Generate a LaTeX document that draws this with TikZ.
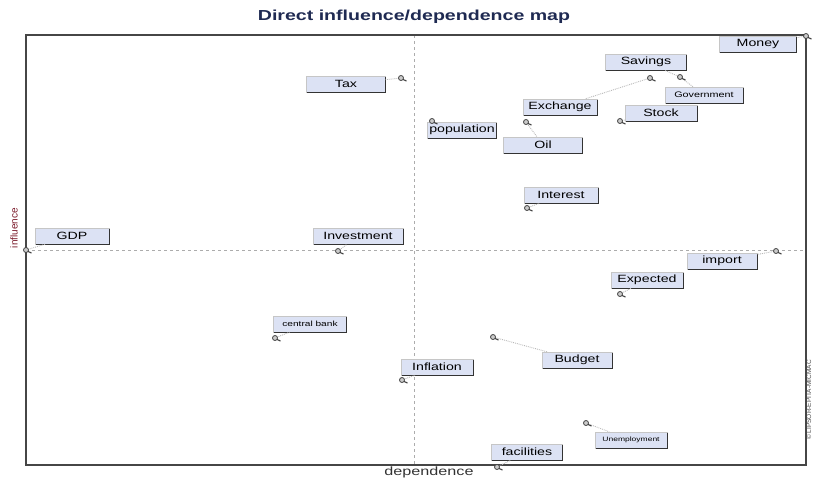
\documentclass[tikz,border=0pt]{standalone}
\usepackage{fontspec}
\setmainfont{Liberation Sans}
\newfontfamily\widefont[FakeStretch=1.35]{Liberation Sans}
\definecolor{lblfill}{HTML}{DCE2F4}
\definecolor{titleblue}{HTML}{1F2A52}
\definecolor{inflred}{HTML}{7A1A2A}
\tikzset{
  lbl/.style={draw=gray!45, fill=lblfill, minimum width=74pt, minimum height=16pt,
    inner sep=1pt, font=\widefont\fontsize{10.5}{12}\selectfont},
  smalllbl/.style={lbl, font=\widefont\fontsize{8}{9}\selectfont},
  leader/.style={gray!55, densely dotted, line width=0.9pt},
  shade/.style={black!80, line width=1.3pt},
  axis/.style={gray!65, dashed, line width=0.6pt},
  marker/.pic={
    \draw[gray!50!black, line width=1.1pt] (1,1) -- (5.5,3);
    \filldraw[fill=gray!40, draw=gray!50!black, line width=0.8pt] (0,0) circle (2.5);
  }
}
\begin{document}
\begin{tikzpicture}[x=1pt,y=-1pt]
\useasboundingbox (0,0) rectangle (814,477);

\node[font=\widefont\bfseries\fontsize{14.5}{16}\selectfont, text=titleblue] (title) at (414,17) {Direct influence/dependence map};

\draw[axis] (414,35) -- (414,465);
\draw[axis] (26,250) -- (806,250);
\draw[gray!55!black, line width=1.7pt] (26,35) rectangle (806,465);

\node[rotate=90, text=inflred, font=\fontsize{10}{11}\selectfont] (infl) at (14,228) {influence};
\node[text=gray!40!black, font=\widefont\fontsize{12}{13}\selectfont] (dep) at (429,472) {dependence};
\node[rotate=90, text=gray!60!black, font=\fontsize{6.5}{7}\selectfont] (copy) at (809,400) {© LIPSOR-EPITA-MICMAC};

\coordinate (pMoney) at (806,36);
\coordinate (pSavings) at (680,77);
\coordinate (pGov) at (680,77);
\coordinate (pStock) at (620,121);
\coordinate (pTax) at (401,78);
\coordinate (pExch) at (650,78);
\coordinate (pPop) at (432,121);
\coordinate (pOil) at (526,122);
\coordinate (pInt) at (527,208);
\coordinate (pGDP) at (26,250);
\coordinate (pInv) at (338,251);
\coordinate (pImp) at (776,251);
\coordinate (pExp) at (620,294);
\coordinate (pBank) at (275,338);
\coordinate (pInfl) at (402,380);
\coordinate (pBudget) at (493,337);
\coordinate (pUnemp) at (586,423);
\coordinate (pFac) at (497,467);

\node[lbl, minimum width=77pt] (money) at (758,44) {Money};
\node[lbl, minimum width=81pt] (savings) at (646,62) {Savings};
\node[smalllbl, minimum width=78pt] (gov) at (704,95) {Government};
\node[lbl, minimum width=72pt] (stock) at (661,113) {Stock};
\node[lbl, minimum width=79pt] (tax) at (346,84) {Tax};
\node[lbl, minimum width=74pt] (exch) at (560,107) {Exchange};
\node[lbl, minimum width=69pt] (pop) at (462,130) {population};
\node[lbl, minimum width=79pt] (oil) at (543,145) {Oil};
\node[lbl, minimum width=74pt] (int) at (561,195) {Interest};
\node[lbl, minimum width=74pt] (gdp) at (72,236) {GDP};
\node[lbl, minimum width=90pt] (inv) at (358,236) {Investment};
\node[lbl, minimum width=70pt] (imp) at (722,261) {import};
\node[lbl, minimum width=72pt] (exp) at (647,280) {Expected};
\node[smalllbl, minimum width=73pt, font=\widefont\fontsize{7.5}{8}\selectfont] (bank) at (310,324) {central bank};
\node[lbl, minimum width=72pt] (infl) at (437,367) {Inflation};
\node[lbl, minimum width=70pt] (budget) at (577,360) {Budget};
\node[smalllbl, minimum width=72pt, font=\widefont\fontsize{6.3}{7}\selectfont] (unemp) at (631,440) {Unemployment};
\node[lbl, minimum width=71pt] (fac) at (527,452) {facilities};

\foreach \n in {money,savings,gov,stock,tax,exch,pop,oil,int,gdp,inv,imp,exp,bank,infl,budget,unemp,fac}
  \draw[shade] ([yshift=-1pt]\n.north east) -- (\n.south east) -- ([xshift=1pt]\n.south west);

\draw[leader] (pMoney) -- (money);
\draw[leader] (pGov) -- (gov);
\draw[leader] (pGov) -- (savings);
\draw[leader] (pStock) -- (stock);
\draw[leader] (pTax) -- (tax);
\draw[leader] (pExch) -- (exch);
\draw[leader] (pPop) -- (pop);
\draw[leader] (pOil) -- (oil);
\draw[leader] (pInt) -- (int);
\draw[leader] (pGDP) -- (gdp);
\draw[leader] (pInv) -- (inv);
\draw[leader] (pImp) -- (imp);
\draw[leader] (pExp) -- (exp);
\draw[leader] (pBank) -- (bank);
\draw[leader] (pInfl) -- (infl);
\draw[leader] (pBudget) -- (budget);
\draw[leader] (pUnemp) -- (unemp);
\draw[leader] (pFac) -- (fac);

\foreach \p in {pMoney,pGov,pStock,pTax,pExch,pPop,pOil,pInt,pGDP,pInv,pImp,pExp,pBank,pInfl,pBudget,pUnemp,pFac}
  \pic at (\p) {marker};
\end{tikzpicture}
\end{document}
